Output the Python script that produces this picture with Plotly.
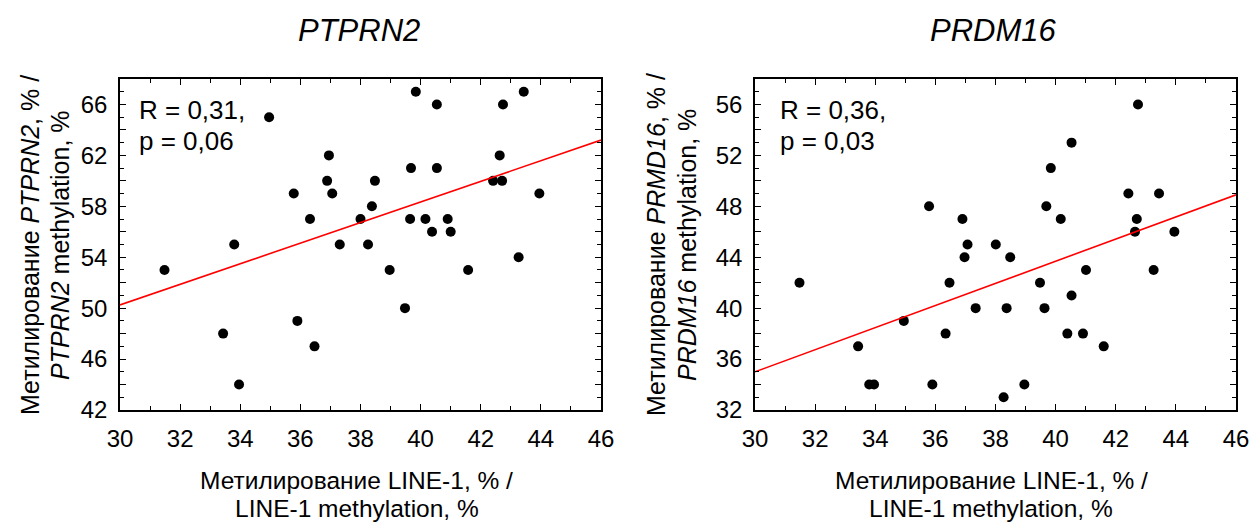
import plotly.graph_objects as go

# ---------------- data ----------------
line1_a = [31.48, 33.43, 33.80, 33.96, 34.96, 35.78, 35.90, 36.32, 36.47, 36.89, 36.95, 37.06,
           37.31, 38.00, 38.25, 38.38, 38.48, 38.97, 39.48, 39.65, 39.68, 39.84, 40.16, 40.38,
           40.54, 40.54, 40.90, 41.00, 41.58, 42.41, 42.63, 42.71, 42.74, 43.26, 43.43, 43.95]
ptprn2 = [53, 48, 55, 44, 65, 59, 49, 57, 47, 60, 62, 59,
          55, 57, 55, 58, 60, 53, 50, 57, 61, 67, 57, 56,
          66, 61, 57, 56, 53, 60, 62, 60, 66, 54, 67, 59]

line1_b = [31.48, 33.43, 33.80, 33.96, 34.95, 35.79, 35.90, 36.34, 36.47, 36.90, 36.97, 37.07,
           37.34, 38.01, 38.27, 38.37, 38.49, 38.96, 39.48, 39.63, 39.69, 39.84, 40.17, 40.39,
           40.53, 40.53, 40.91, 41.01, 41.60, 42.42, 42.64, 42.70, 42.74, 43.26, 43.44, 43.95]
prdm16 = [42, 37, 34, 34, 39, 48, 34, 38, 42, 47, 44, 45,
          40, 45, 33, 40, 44, 34, 42, 40, 48, 51, 47, 38,
          53, 41, 38, 43, 37, 49, 46, 47, 56, 43, 49, 46]

fit_x = [30, 46]
fit_ptprn2 = [50.25, 63.2]
fit_prdm16 = [35.0, 48.9]

x_ticks = [30, 32, 34, 36, 38, 40, 42, 44, 46]
y_ticks_a = list(range(42, 69, 2))
y_ticks_b = list(range(32, 59, 2))

titles = ["PTPRN2", "PRDM16"]
stats_a = ["R = 0,31,", "p = 0,06"]
stats_b = ["R = 0,36,", "p = 0,03"]
xtitle_lines = ["Метилирование LINE-1, % /", "LINE-1 methylation, %"]
ytitle_a_lines = ["Метилирование <i>PTPRN2</i>, % /", "<i>PTPRN2</i> methylation, %"]
ytitle_b_lines = ["Метилирование <i>PRMD16</i>, % /", "<i>PRDM16</i> methylation, %"]

# ---------------- figure ----------------
W, H = 1252, 525
FONT = "Liberation Sans, Arial, sans-serif"

fig = go.Figure()
fig.add_trace(go.Scatter(x=line1_a, y=ptprn2, mode="markers",
                         marker=dict(color="black", size=10), xaxis="x", yaxis="y", showlegend=False))
fig.add_trace(go.Scatter(x=fit_x, y=fit_ptprn2, mode="lines",
                         line=dict(color="#ff0000", width=1.6), xaxis="x", yaxis="y", showlegend=False))
fig.add_trace(go.Scatter(x=line1_b, y=prdm16, mode="markers",
                         marker=dict(color="black", size=10), xaxis="x2", yaxis="y2", showlegend=False))
fig.add_trace(go.Scatter(x=fit_x, y=fit_prdm16, mode="lines",
                         line=dict(color="#ff0000", width=1.6), xaxis="x2", yaxis="y2", showlegend=False))

def px(v):
    return v / W

def py(v):
    return 1 - v / H

ydom = [py(410), py(79)]
xdom_a = [px(120), px(601)]
xdom_b = [px(755), px(1236)]

axis_common = dict(showline=True, linecolor="black", linewidth=1.5, mirror="allticks",
                   ticks="inside", ticklen=6, tickwidth=1.2, tickcolor="black",
                   showgrid=False, zeroline=False, automargin=False,
                   tickfont=dict(family=FONT, size=24, color="black"),
                   minor=dict(ticks="inside", ticklen=4, dtick=1, tickwidth=1.2,
                              tickcolor="black", showgrid=False))

def yax(ticks, dom, anchor):
    return dict(axis_common, range=[ticks[0], ticks[-1]], domain=dom, anchor=anchor,
                tickmode="array", tickvals=ticks,
                ticktext=[str(t) if (t - ticks[0]) % 4 == 0 else "" for t in ticks],
                ticklabelstandoff=6)

def xax(dom, anchor):
    return dict(axis_common, range=[x_ticks[0], x_ticks[-1]], domain=dom, anchor=anchor,
                tickmode="array", tickvals=x_ticks, ticktext=[str(t) for t in x_ticks],
                ticklabelstandoff=6)

fig.update_layout(
    width=W, height=H,
    margin=dict(l=0, r=0, t=0, b=0),
    paper_bgcolor="white", plot_bgcolor="white",
    font=dict(family=FONT, color="black"),
    xaxis=xax(xdom_a, "y"),
    yaxis=yax(y_ticks_a, ydom, "x"),
    xaxis2=xax(xdom_b, "y2"),
    yaxis2=yax(y_ticks_b, ydom, "x2"),
)

ann = []
for dom, t in zip([xdom_a, xdom_b], titles):
    cx = (dom[0] + dom[1]) / 2
    ann.append(dict(text=f"<i>{t}</i>", x=cx - px(2), y=py(30), xref="paper", yref="paper",
                    xanchor="center", yanchor="middle", showarrow=False,
                    font=dict(family=FONT, size=31, color="black")))
    for line, yc in zip(xtitle_lines, [480, 508]):
        ann.append(dict(text=line, x=cx - px(4), y=py(yc), xref="paper", yref="paper",
                        xanchor="center", yanchor="middle", showarrow=False,
                        font=dict(family=FONT, size=24.5, color="black")))

for xr, sx, stats in [("x domain", 0.035, stats_a), ("x2 domain", 0.048, stats_b)]:
    for i, s in enumerate(stats):
        ann.append(dict(text=s, x=sx, y=py([110, 141][i]), xref=xr, yref="paper",
                        xanchor="left", yanchor="middle", showarrow=False,
                        font=dict(family=FONT, size=26, color="black")))

for xcs, lines in [((30, 60), ytitle_a_lines), ((656, 687), ytitle_b_lines)]:
    for xc, line in zip(xcs, lines):
        ann.append(dict(text=line, x=px(xc), y=py(245), xref="paper", yref="paper",
                        xanchor="center", yanchor="middle", textangle=-90, showarrow=False,
                        font=dict(family=FONT, size=25, color="black")))

fig.update_layout(annotations=ann)
fig.write_html("out.html", config={"displayModeBar": False},
               post_script="document.body.style.margin='0';document.body.style.overflow='hidden';")
